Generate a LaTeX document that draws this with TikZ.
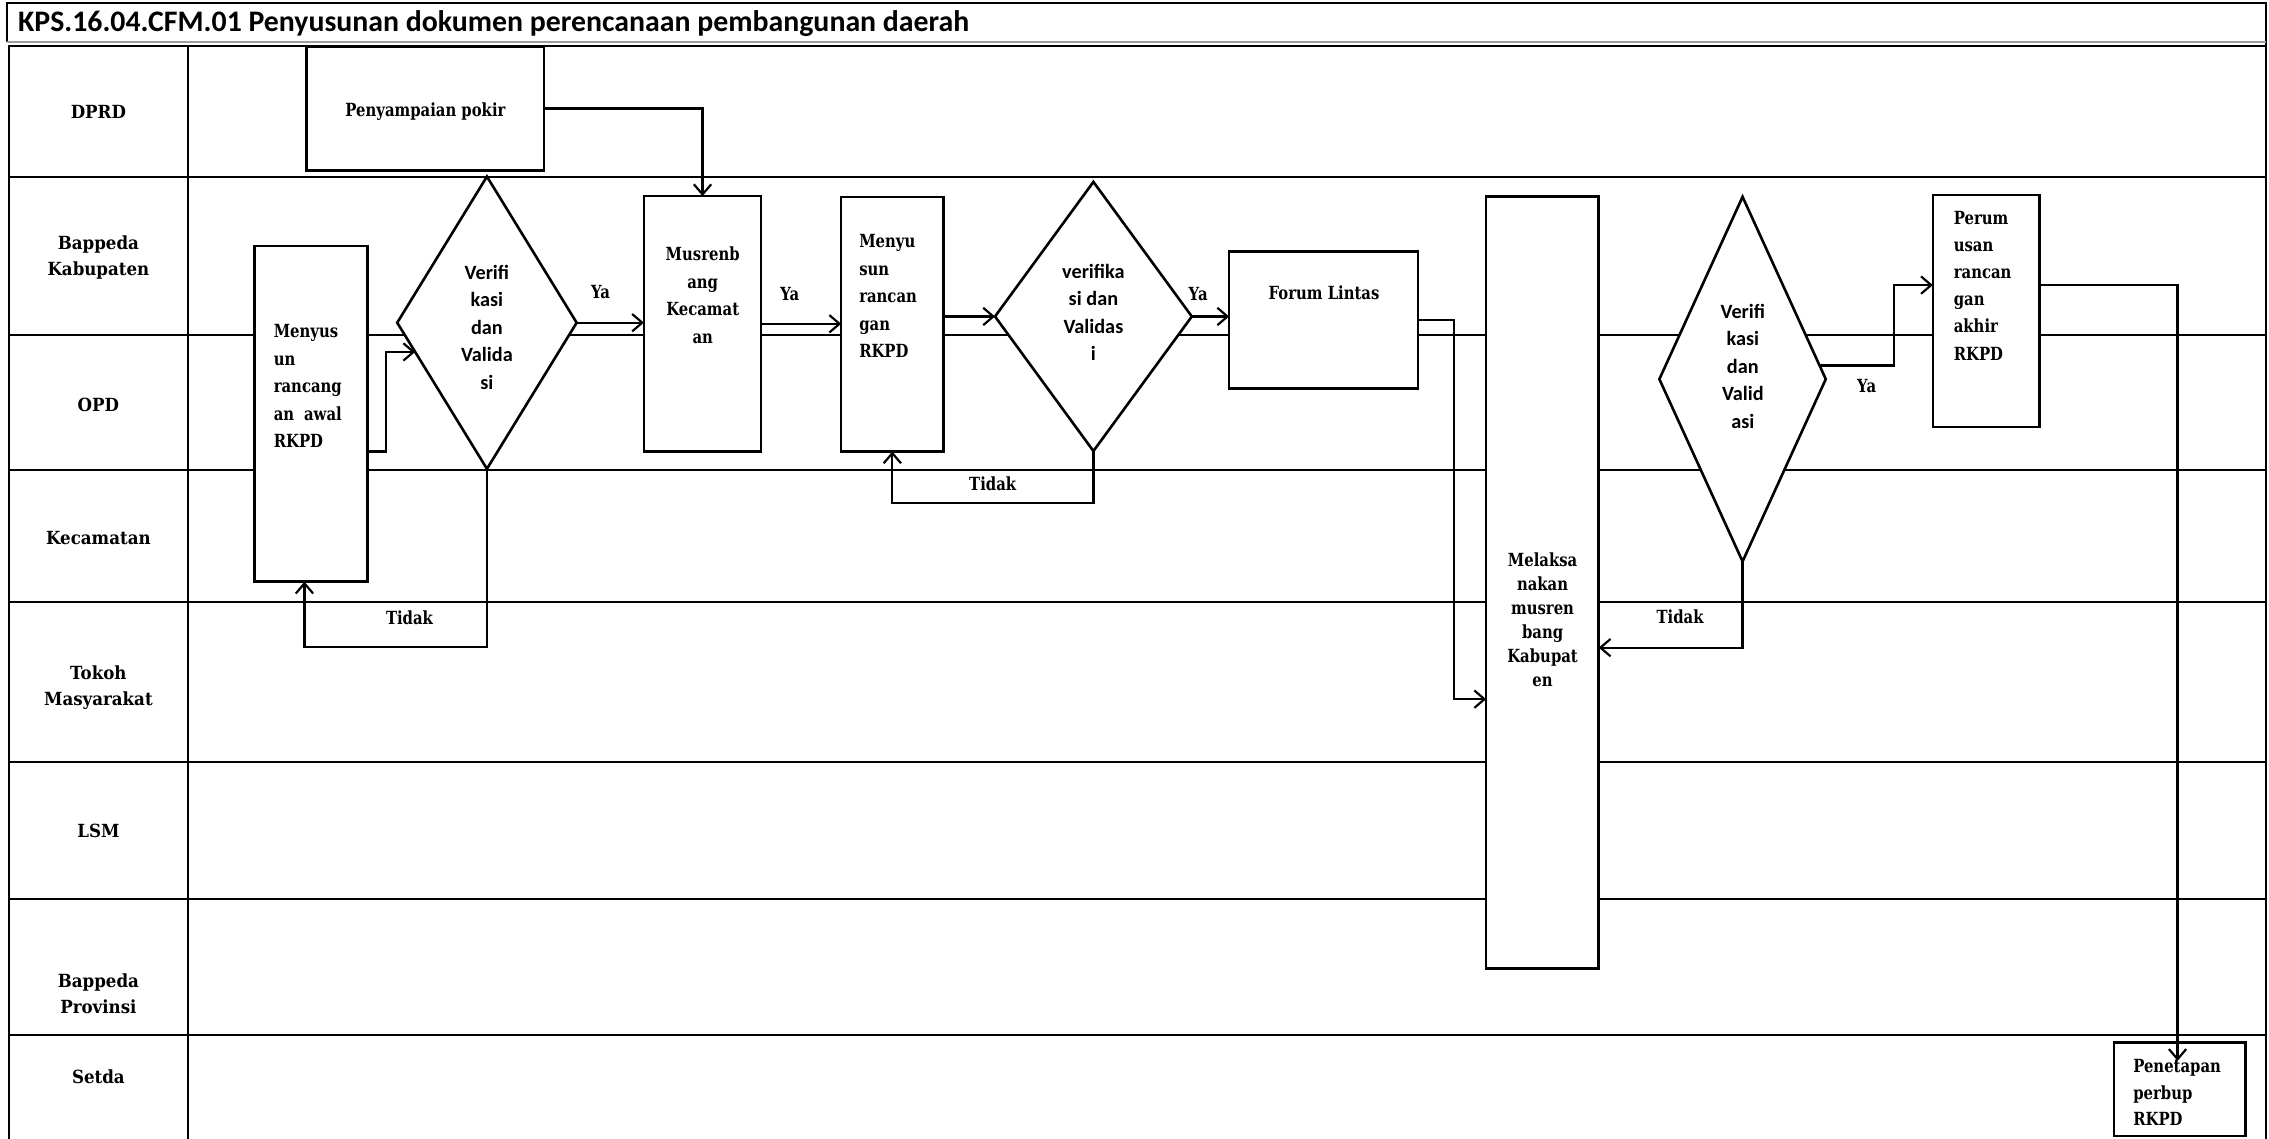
\documentclass[tikz,border=0pt]{standalone}
\usepackage{fontspec}
\setmainfont{DejaVu Serif}
\newfontfamily\lanefont{DejaVu Serif}[FakeStretch=0.92]
\newfontfamily\shapefont{DejaVu Serif}[FakeStretch=0.82]
\newfontfamily\calfont{Carlito}
\usetikzlibrary{arrows.meta,calc,shapes.geometric}
\begin{document}
\begin{tikzpicture}[x=1pt,y=-1pt,
  lane/.style={line width=1.4pt},
  box/.style={draw, fill=white, line width=1.8pt, inner sep=0pt, outer sep=0pt, rectangle},
  dia/.style={draw, fill=white, line width=1.8pt, inner sep=0pt, outer sep=0pt, diamond},
  conn/.style={line width=1.5pt, -{Straight Barb[length=7pt,width=12pt]}},
  lanelbl/.style={font=\lanefont\bfseries\fontsize{12.5}{18}\selectfont, align=center, inner sep=0pt},
  stxt/.style={font=\shapefont\bfseries\fontsize{12.5}{19}\selectfont, inner sep=0pt},
  dtxt/.style={font=\calfont\bfseries\fontsize{14}{19}\selectfont, align=center, inner sep=0pt, anchor=north},
  yl/.style={font=\shapefont\bfseries\fontsize{12.5}{15}\selectfont, inner sep=0pt},
]
\useasboundingbox (0,0) rectangle (1568,787);
\fill[white] (0,0) rectangle (1568,787);

% frame and title bar
\draw[line width=1.2pt] (5,29) -- (5,2) -- (1566,2) -- (1566,787);
\draw[gray!75, line width=1.6pt] (5,29) -- (1566,29);
\node[anchor=base west, font=\calfont\bfseries\fontsize{20.6}{24}\selectfont, inner sep=0pt] (title) at (12.3,21.9) {KPS.16.04.CFM.01 Penyusunan dokumen perencanaan pembangunan daerah};

% swimlane table
\draw[lane] (6.5,787) -- (6.5,32) -- (1566,32);
\draw[lane] (129.6,32) -- (129.6,787);
\foreach \yy in {122,231.5,324.5,416,526.5,621,715}
  \draw[lane] (6.5,\yy) -- (1566,\yy);

\node[lanelbl] (lDPRD) at (68,77) {DPRD};
\node[lanelbl] (lBK) at (68,178) {Bappeda\\Kabupaten};
\node[lanelbl] (lOPD) at (68,279.5) {OPD};
\node[lanelbl] (lKec) at (68,372) {Kecamatan};
\node[lanelbl] (lTok) at (68,475) {Tokoh\\Masyarakat};
\node[lanelbl] (lLSM) at (68,574) {LSM};
\node[lanelbl] (lBP) at (68,687) {Bappeda\\Provinsi};
\node[lanelbl] (lSet) at (68,744) {Setda};

% shapes
\node[box, minimum width=164pt, minimum height=86pt] (pokir) at (294,75) {};
\node[box, minimum width=78pt, minimum height=232pt] (m1) at (215,286) {};
\node[dia, minimum width=124pt, minimum height=202pt] (d1) at (336.5,223) {};
\node[box, minimum width=81pt, minimum height=176.5pt] (mk) at (485.5,223.75) {};
\node[box, minimum width=70.7pt, minimum height=176pt] (m2) at (616.65,224) {};
\node[dia, minimum width=136pt, minimum height=186pt] (d2) at (755.6,218.7) {};
\node[box, minimum width=130.6pt, minimum height=94.7pt] (forum) at (914.7,221.15) {};
\node[box, minimum width=77.8pt, minimum height=533.3pt] (mel) at (1065.9,402.55) {};
\node[dia, minimum width=115pt, minimum height=252pt] (d3) at (1204.2,262) {};
\node[box, minimum width=73.7pt, minimum height=160.2pt] (per) at (1372.55,214.9) {};
\node[box, minimum width=90.8pt, minimum height=64.4pt] (pen) at (1506.2,752.8) {};

% connectors
\draw[conn] (pokir.east) -| (mk.north);
\draw[conn] ($(m1.east)+(0,26)$) -- ++(12.5,0) |- ($(d1.west)!0.2!(d1.south)$);
\draw[conn] (d1.east) -- (d1.east -| mk.west);
\draw[conn] (mk.east) -- (mk.east -| m2.west);
\draw[conn] (m2.east |- d2.west) -- (d2.west);
\draw[conn] (d2.east) -- (d2.east -| forum.west);
\draw[conn] (d1.south) -- ++(0,123.3) -| ([xshift=-4.6pt]m1.south);
\draw[conn] (d2.south) -- ++(0,36) -| (m2.south);
\draw[conn] (forum.east) -- ++(24.6,0) |- ($(mel.west)+(0,80.6)$);
\draw[conn] (d3.south) |- ($(mel.east)+(0,45)$);
\draw[conn] ($(d3.east)!0.075!(d3.north)$) -- ++(51.2,0) |- ($(per.west)+(0,-17.9)$);
\draw[conn] ($(per.east)+(0,-17.9)$) -| ($(pen.north)+(-1.4,12.5)$);

% texts
\node[stxt, anchor=center] (tpokir) at (294,77) {Penyampaian pokir};
\node[stxt, anchor=north west, align=left] (tm1) at (189,224) {Menyus\\un\\rancang\\an\hspace{0.55em}awal\\RKPD};
\node[stxt, anchor=north, align=center] (tmk) at (485.6,170.5) {Musrenb\\ang\\Kecamat\\an};
\node[stxt, anchor=north west, align=left] (tm2) at (593.6,162) {Menyu\\sun\\rancan\\gan\\RKPD};
\node[stxt, anchor=center] (tforum) at (915,202) {Forum Lintas};
\node[stxt, anchor=north, align=center, font=\shapefont\bfseries\fontsize{12.5}{16.6}\selectfont] (tmel) at (1066,381.5) {Melaksa\\nakan\\musren\\bang\\Kabupat\\en};
\node[stxt, anchor=north west, align=left, font=\shapefont\bfseries\fontsize{12.5}{18.8}\selectfont] (tper) at (1350,145.5) {Perum\\usan\\rancan\\gan\\akhir\\RKPD};
\node[stxt, anchor=north west, align=left, font=\shapefont\bfseries\fontsize{12.5}{18.3}\selectfont] (tpen) at (1474,732) {Penetapan\\perbup\\RKPD};

\node[dtxt] (td1) at (336.5,183) {Verifi\\kasi\\dan\\Valida\\si};
\node[dtxt] (td2) at (755.6,182.4) {verifika\\si dan\\Validas\\i};
\node[dtxt] (td3) at (1204.4,210) {Verifi\\kasi\\dan\\Valid\\asi};

\node[yl] (ya1) at (415,202) {Ya};
\node[yl] (ya2) at (545.8,203) {Ya};
\node[yl] (ya3) at (828,203) {Ya};
\node[yl] (ya4) at (1290,267) {Ya};
\node[yl] (td1n) at (283,427) {Tidak};
\node[yl] (td2n) at (686,334) {Tidak};
\node[yl] (td3n) at (1161,426.5) {Tidak};
\end{tikzpicture}
\end{document}
